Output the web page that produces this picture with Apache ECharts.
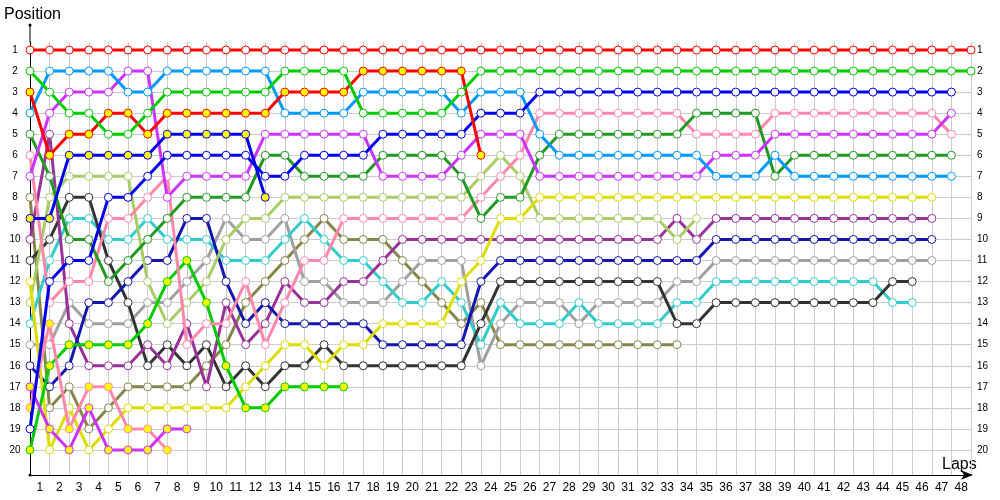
<!DOCTYPE html>
<html>
<head>
<meta charset="utf-8">
<script src="https://cdn.jsdelivr.net/npm/echarts@6/dist/echarts.min.js"></script>
<style>html,body{margin:0;padding:0;background:#fff}#c{width:1000px;height:500px}</style>
</head>
<body>
<div id="c"></div>
<script>
// Position of each driver, index = lap (0 = grid)
const redW = [1,1,1,1,1,1,1,1,1,1, 1,1,1,1,1,1,1,1,1,1, 1,1,1,1,1,1,1,1,1,1, 1,1,1,1,1,1,1,1,1,1, 1,1,1,1,1,1,1,1,1];
const greenW = [2,3,4,4,5,5,4,3,3,3, 3,3,3,2,2,2,2,4,4,4, 4,4,3,2,2,2,2,2,2,2, 2,2,2,2,2,2,2,2,2,2, 2,2,2,2,2,2,2,2,2];
const redY = [3,6,5,5,4,4,5,4,4,4, 4,4,4,3,3,3,3,2,2,2, 2,2,2,6];
const skyW = [4,2,2,2,2,3,3,2,2,2, 2,2,2,4,4,4,4,3,3,3, 3,3,4,3,3,3,5,6,6,6, 6,6,6,6,6,7,7,7,6,7, 7,7,7,7,7,7,7,7];
const forestW = [5,7,10,10,12,11,10,9,8,8, 8,8,6,6,7,7,7,7,6,6, 6,6,7,9,8,8,6,5,5,5, 5,5,5,5,4,4,4,4,7,6, 6,6,6,6,6,6,6,6];
const pinkW = [6,13,12,12,9,9,8,7,15,14, 14,12,15,13,11,11,9,9,9,9, 9,9,9,8,7,6,4,4,4,4, 4,4,4,4,5,5,5,5,4,4, 4,4,4,4,4,4,4,5];
const violetW = [7,4,3,3,3,2,2,8,7,7, 7,7,5,5,5,5,5,5,7,7, 7,7,6,5,5,5,7,7,7,7, 7,7,7,7,7,6,6,6,5,5, 5,5,5,5,5,5,5,4];
const oliveW = [8,18,17,19,18,17,17,17,17,16, 15,13,12,11,10,9,10,10,10,11, 12,13,14,13,15,15,15,15,15,15, 15,15,15,15];
const blueY = [9,9,6,6,6,6,6,5,5,5, 5,5,8];
const purpleW = [10,5,14,16,16,16,15,16,14,17, 13,15,14,12,13,13,12,12,11,10, 10,10,10,10,10,10,10,10,10,10, 10,10,10,9,10,9,9,9,9,9, 9,9,9,9,9,9,9];
const blackW = [11,10,8,8,11,13,16,15,16,15, 17,16,17,16,16,15,16,16,16,16, 16,16,16,14,12,12,12,12,12,12, 12,12,12,14,14,13,13,13,13,13, 13,13,13,13,12,12];
const yellowW = [12,20,18,20,19,18,18,18,18,18, 18,17,16,15,15,16,15,15,14,14, 14,14,12,11,9,9,8,8,8,8, 8,8,8,8,8,8,8,8,8,8, 8,8,8,8,8,8,8];
const limeW = [13,8,7,7,7,7,12,14,13,12, 10,9,9,8,8,8,8,8,8,8, 8,8,8,7,6,7,9,9,9,9, 9,9,9,10,9];
const cyanW = [14,11,9,9,10,10,9,10,10,10, 11,11,11,10,9,10,11,11,12,13, 13,12,13,15,13,14,14,14,13,14, 14,14,14,13,13,12,12,12,12,12, 12,12,12,12,13,13];
const grayW = [15,15,13,14,14,14,13,13,12,11, 9,10,10,9,12,12,13,13,13,12, 11,11,11,16,14,13,13,13,14,13, 13,13,13,12,12,11,11,11,11,11, 11,11,11,11,11,11,11];
const navyW = [16,17,16,13,13,12,11,11,9,9, 12,14,13,14,14,14,14,14,15,15, 15,15,15,12,11,11,11,11,11,11, 11,11,11,11,11,10,10,10,10,10, 10,10,10,10,10,10,10];
const violetY = [17,19,20,18,20,20,20,19,19];
const pinkY = [18,14,19,17,17,19,19,20];
const blueW = [19,12,11,11,8,8,7,6,6,6, 6,6,7,7,6,6,6,6,5,5, 5,5,5,4,4,4,3,3,3,3, 3,3,3,3,3,3,3,3,3,3, 3,3,3,3,3,3,3,3];
const greenY = [20,16,15,15,15,15,14,12,11,13, 16,18,18,17,17,17,17];

const lapLabels = ['1','2','3','4','5','6','7','8','9','10','11','12','13','14','15','16','17','18','19','20','21','22','23','24','25','26','27','28','29','30','31','32','33','34','35','36','37','38','39','40','41','42','43','44','45','46','47','48'];
const positionTicks = [1,2,3,4,5,6,7,8,9,10,11,12,13,14,15,16,17,18,19,20];

const W = '#ffffff', Y = '#ffff00';
const drivers = [
  {d: oliveW, c: '#86864a', f: W},
  {d: grayW, c: '#a0a0a0', f: W},
  {d: cyanW, c: '#33cccc', f: W},
  {d: blackW, c: '#333333', f: W},
  {d: purpleW, c: '#993399', f: W},
  {d: navyW, c: '#1515b0', f: W},
  {d: limeW, c: '#a8cc66', f: W},
  {d: yellowW, c: '#dddd00', f: W},
  {d: greenY, c: '#00cc00', f: Y},
  {d: pinkY, c: '#ff88aa', f: Y},
  {d: violetY, c: '#cc33ff', f: Y},
  {d: pinkW, c: '#ff88aa', f: W},
  {d: forestW, c: '#229922', f: W},
  {d: violetW, c: '#cc33ff', f: W},
  {d: skyW, c: '#0099ff', f: W},
  {d: blueW, c: '#0000ee', f: W},
  {d: blueY, c: '#0000ee', f: Y},
  {d: redY, c: '#ff0000', f: Y},
  {d: greenW, c: '#00cc00', f: W},
  {d: redW, c: '#ff0000', f: W}
];

const chart = echarts.init(document.getElementById('c'), null, {renderer: 'canvas'});
const series = drivers.map((s, k) => ({
  type: 'line',
  name: 'd' + k,
  xAxisIndex: 0, yAxisIndex: 0,
  data: s.d.map((p, i) => [i, p]),
  symbol: 'circle',
  symbolSize: 8,
  showSymbol: true,
  showAllSymbol: true,
  lineStyle: {color: s.c, width: 3},
  itemStyle: {color: s.f, borderColor: s.c, borderWidth: 1},
  emphasis: {disabled: true},
  silent: true,
  z: 2 + k * 0.01
}));

chart.setOption({
  animation: false,
  backgroundColor: '#ffffff',
  grid: {left: 30, right: 29, top: 42, bottom: 25, containLabel: false},
  xAxis: [
    {
      type: 'value', min: 0, max: 48, interval: 1,
      axisLine: {show: true, lineStyle: {color: '#000', width: 1}, symbol: ['none', 'arrow'], symbolSize: [7, 12], symbolOffset: [0, 2]},
      axisTick: {show: false},
      axisLabel: {show: false},
      splitLine: {show: true, lineStyle: {color: '#cccccc', width: 1}}
    },
    {
      type: 'category', data: lapLabels, position: 'bottom', boundaryGap: true,
      axisLine: {show: false}, axisTick: {show: false}, splitLine: {show: false},
      axisLabel: {show: true, interval: 0, margin: 7, color: '#000', fontSize: 12, fontFamily: 'Liberation Sans'}
    }
  ],
  yAxis: [
    {
      type: 'value', inverse: true, min: 0.62, max: 21.19, position: 'left',
      axisLine: {show: true, lineStyle: {color: '#000', width: 1}},
      axisTick: {show: false, customValues: positionTicks},
      axisLabel: {show: true, customValues: positionTicks, align: 'center', margin: 15, color: '#000', fontSize: 10, fontFamily: 'Liberation Sans'},
      splitLine: {show: true, lineStyle: {color: '#cccccc', width: 1}}
    },
    {
      type: 'value', inverse: true, min: 0.62, max: 21.19, position: 'right',
      axisLine: {show: false},
      axisTick: {show: false, customValues: positionTicks},
      axisLabel: {show: true, customValues: positionTicks, align: 'left', margin: 6, color: '#000', fontSize: 10, fontFamily: 'Liberation Sans'},
      splitLine: {show: false}
    }
  ],
  graphic: [
    {type: 'line', shape: {x1: 30, y1: 25, x2: 30, y2: 42}, style: {stroke: '#000', lineWidth: 1}},
    {type: 'circle', shape: {cx: 30, cy: 25, r: 1.5}, style: {fill: '#000'}},
    {type: 'circle', shape: {cx: 30, cy: 475, r: 1.5}, style: {fill: '#000'}},
    {type: 'text', left: 4, top: 7, style: {text: 'Position', fontSize: 16, fontFamily: 'Liberation Sans', fill: '#000'}},
    {type: 'text', left: 942, top: 457, style: {text: 'Laps', fontSize: 16, fontFamily: 'Liberation Sans', fill: '#000'}}
  ],
  series: series
});
</script>
</body>
</html>
